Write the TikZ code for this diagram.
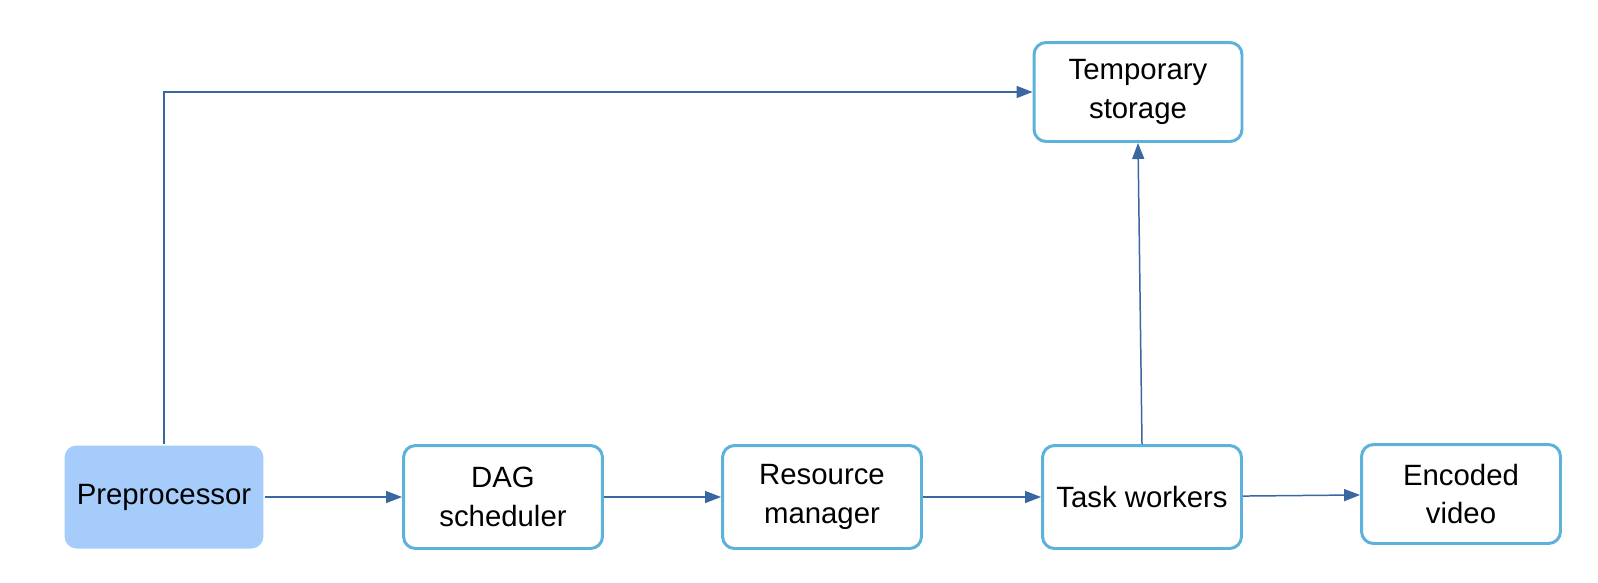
\documentclass[tikz,border=0pt]{standalone}
\usepackage{fontspec}
\setmainfont{Liberation Sans}
\usetikzlibrary{arrows.meta}

\definecolor{boxline}{RGB}{92,178,218}
\definecolor{prefill}{RGB}{166,204,251}
\definecolor{flowline}{RGB}{58,102,162}

\begin{document}
\begin{tikzpicture}[
    x=0.02cm,
    y=-0.02cm,
    stage/.style={
      draw=boxline,
      line width=1.7pt,
      rounded corners=0.24cm,
      fill=white,
      minimum width=3.98cm,
      minimum height=2.06cm,
      align=center,
      font=\fontsize{16.7}{22}\selectfont
    },
    source/.style={
      stage,
      draw=none,
      fill=prefill
    },
    arrow/.style={
      draw=flowline,
      line width=0.85pt,
      -{Triangle[length=3.2mm,width=2.4mm]}
    }
  ]

    % canvas
    \useasboundingbox (0,0) rectangle (1598,582);

    % pipeline row
    \node[source] (pre) at (164,497) {Preprocessor};
    \node[stage] (dag) at (503,497) {DAG\\scheduler};
    \node[stage] (res) at (822,497) {Resource\\manager};
    \node[stage] (task) at (1142,497) {Task workers};
    \node[stage, minimum height=1.98cm] (enc) at (1461,494) {Encoded\\video};

    % storage on top
    \node[stage, minimum width=4.16cm, minimum height=1.98cm] (tmp) at (1138,92) {Temporary\\storage};

    % flow
    \draw[arrow] (pre) -- (dag);
    \draw[arrow] (dag) -- (res);
    \draw[arrow] (res) -- (task);
    \draw[arrow] (task) -- (enc);
    \draw[arrow] (task.north) -- (tmp.south);
    \draw[arrow] (pre.north) |- (tmp.west);

\end{tikzpicture}
\end{document}
